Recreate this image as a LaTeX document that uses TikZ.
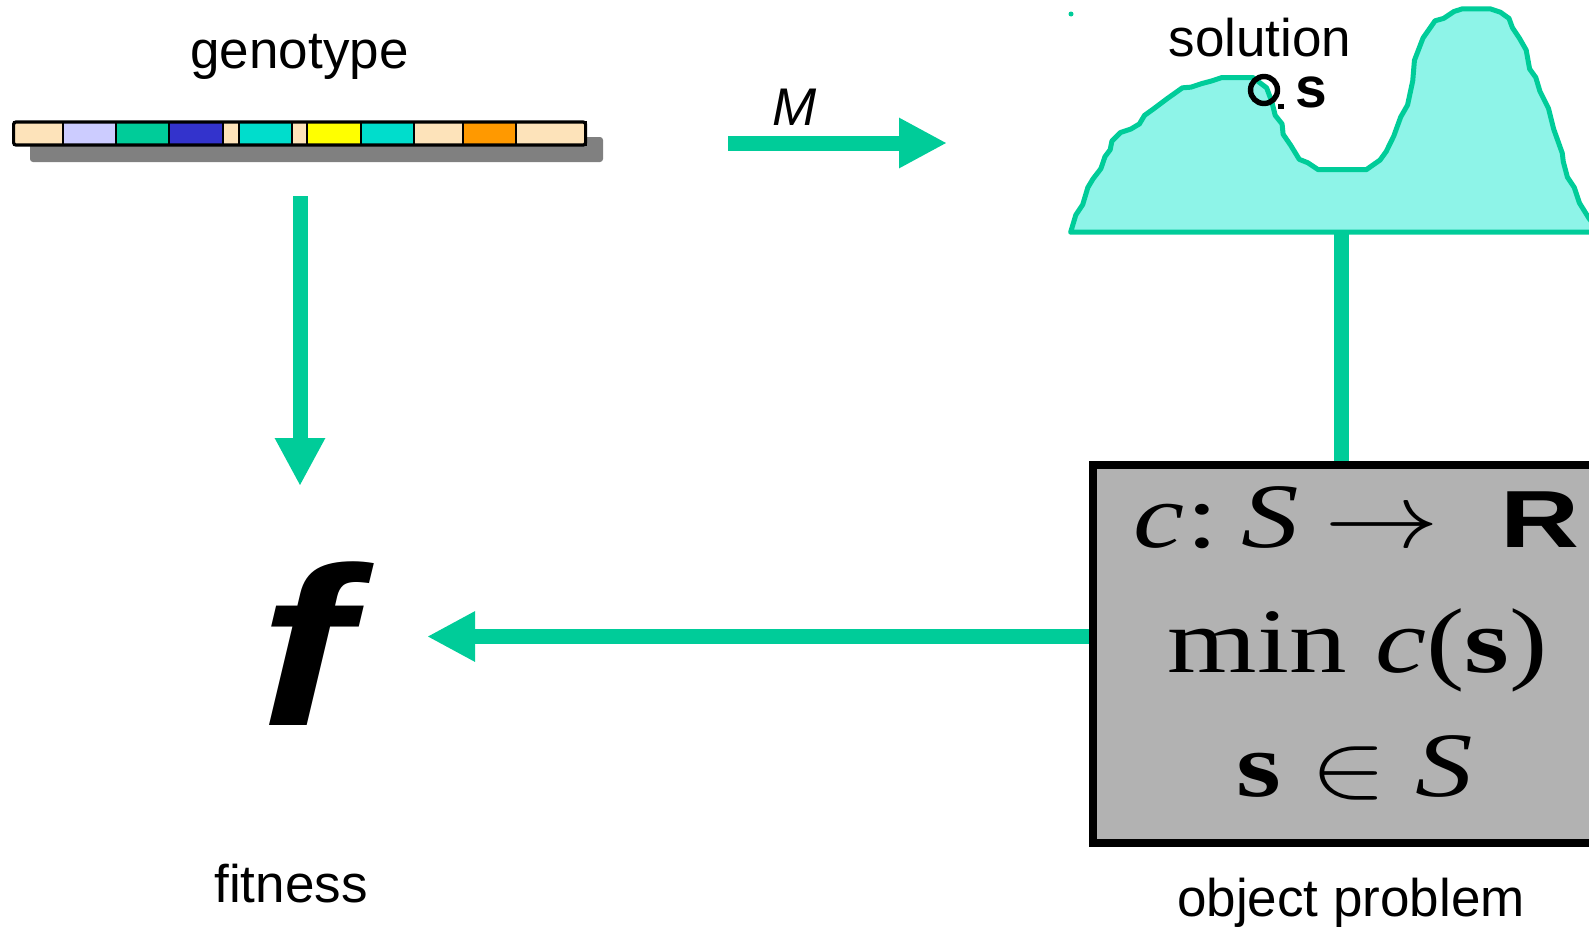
\RequirePackage{fix-cm}
\documentclass[tikz,border=0pt]{standalone}
\usepackage{fontspec}
\usepackage{graphicx}
\newfontfamily\arial{Liberation Sans}
\newfontfamily\tms{Liberation Serif}
\usetikzlibrary{arrows.meta,fit}
\definecolor{teal1}{HTML}{00CC99}
\definecolor{landfill}{HTML}{8EF4E8}
\definecolor{wheat1}{HTML}{FDE3BA}
\definecolor{lav}{HTML}{CCCCFF}
\definecolor{blue1}{HTML}{3333CC}
\definecolor{turq}{HTML}{00DDCC}
\definecolor{yel}{HTML}{FFFF00}
\definecolor{ora}{HTML}{FF9900}
\definecolor{boxgray}{HTML}{B2B2B2}
\definecolor{shadow}{HTML}{808080}
\begin{document}
\begin{tikzpicture}[x=0.5pt,y=-0.5pt,
  lab/.style={font=\arial\fontsize{26.5}{30}\selectfont, anchor=base, inner sep=0},
  conn/.style={draw=teal1, line width=7.5pt},
  arr/.style={conn, -{Triangle[length=24pt,width=23.5pt]}},
  boxtxt/.style={font=\tms\fontsize{46}{50}\selectfont, inner sep=0},
  probbox/.style={draw=black, line width=3.8pt, fill=boxgray, inner sep=0},
  seg/.style={draw=black, line width=1pt}]
\clip (0,0) rectangle (1589,928);

% genotype bar
\fill[shadow, rounded corners=1.5pt] (30,137) rectangle (603,162);
\foreach \a/\b/\c in {13.6/63/wheat1, 63/115.6/lav, 115.6/169/teal1, 169/222.6/blue1,
  222.6/239/wheat1, 239/291.8/turq, 291.8/307/wheat1, 307/361/yel, 361/414.4/turq,
  414.4/463/wheat1, 463/515.6/ora, 515.6/585.6/wheat1}
  \filldraw[seg, fill=\c] (\a,122) rectangle (\b,145);
\draw[line width=1.6pt, rounded corners=1.2pt] (13.6,122) rectangle (585.6,145);

% landscape
\begin{scope}[shift={(1050,-5)}, scale=0.3438]
\filldraw[fill=landfill, draw=teal1, line width=2.5pt, line join=round]
 (60,690) -- (75,640) -- (95,610) -- (110,560) -- (125,535) -- (148,505) -- (160,470)
 -- (175,450) -- (180,425) -- (205,400) -- (235,390) -- (260,375) -- (275,350)
 -- (300,332) -- (340,302) -- (385,270) -- (410,268) -- (440,258) -- (470,250)
 -- (500,240) -- (590,240) -- (630,270) -- (645,310) -- (655,350) -- (675,375)
 -- (678,405) -- (700,437) -- (725,478) -- (750,488) -- (780,508) -- (920,508)
 -- (960,480) -- (978,455) -- (1000,410) -- (1020,355) -- (1040,320) -- (1055,250)
 -- (1060,190) -- (1085,125) -- (1120,75) -- (1145,68) -- (1175,48) -- (1200,40)
 -- (1280,40) -- (1310,50) -- (1335,68) -- (1345,95) -- (1365,125) -- (1385,160)
 -- (1395,215) -- (1413,240) -- (1425,280) -- (1450,330) -- (1465,390) -- (1490,460)
 -- (1493,485) -- (1505,530) -- (1525,560) -- (1540,605) -- (1568,650) -- (1600,690)
 -- (1700,690) -- cycle;
\end{scope}
\fill[teal1] (1071,14) circle[radius=2.5];
\draw[line width=2.7pt] (1264,90) circle[radius=13.5];
\fill (1278,104) rectangle (1284,109);

% labels
\node[lab] (genotype) at (299.5,68) {genotype};
\node[lab] (solution) at (1260,56) {solution};
\node[font=\arial\bfseries\fontsize{28.5}{32}\selectfont, anchor=base, inner sep=0] (s) at (1311,107) {s};
\node[lab, font=\arial\itshape\fontsize{26.5}{30}\selectfont] (M) at (795,125) {M};
\node[lab] (fitness) at (291,902) {fitness};
\node[lab] (objprob) at (1351,916) {object problem};
\node[font=\arial\bfseries\itshape\fontsize{113}{120}\selectfont, anchor=base, inner sep=0] (f) at (305,725) {\scalebox{1.22}[1]{f}};

% object problem box
\node[probbox, fit={(1093,465) (1700,843)}] (prob) {};
\node[boxtxt, anchor=base west] (l1) at (1133,547) {\scalebox{1.25}[1]{\textit{c}\kern0.02em:\kern0.2em\textit{S}\kern0.22em$\rightarrow$}};
\node[anchor=base west, inner sep=0] (l1r) at (1500,547) {\scalebox{1.35}[1]{\arial\bfseries\fontsize{40.5}{45}\selectfont R}};
\node[boxtxt, anchor=base] (l2) at (1358,672) {\scalebox{1.25}[1]{min \textit{c}(\textbf{s})}};
\node[boxtxt, anchor=base] (l3) at (1355,796) {\scalebox{1.25}[1]{\textbf{s} $\in$ \textit{S}}};

% connectors
\coordinate (gdown) at (300,196);
\coordinate (ftop) at (300,486);
\draw[arr] (gdown) -- (ftop);
\coordinate (ms) at (728,143);
\coordinate (me) at (947,143);
\draw[arr] (ms) -- (me);
\coordinate (landbot) at (1341,234);
\draw[conn] (landbot) -- (landbot |- prob.north);
\coordinate (ftip) at (427,636.5);
\draw[arr] (prob.west |- ftip) -- (ftip);
\end{tikzpicture}
\end{document}
